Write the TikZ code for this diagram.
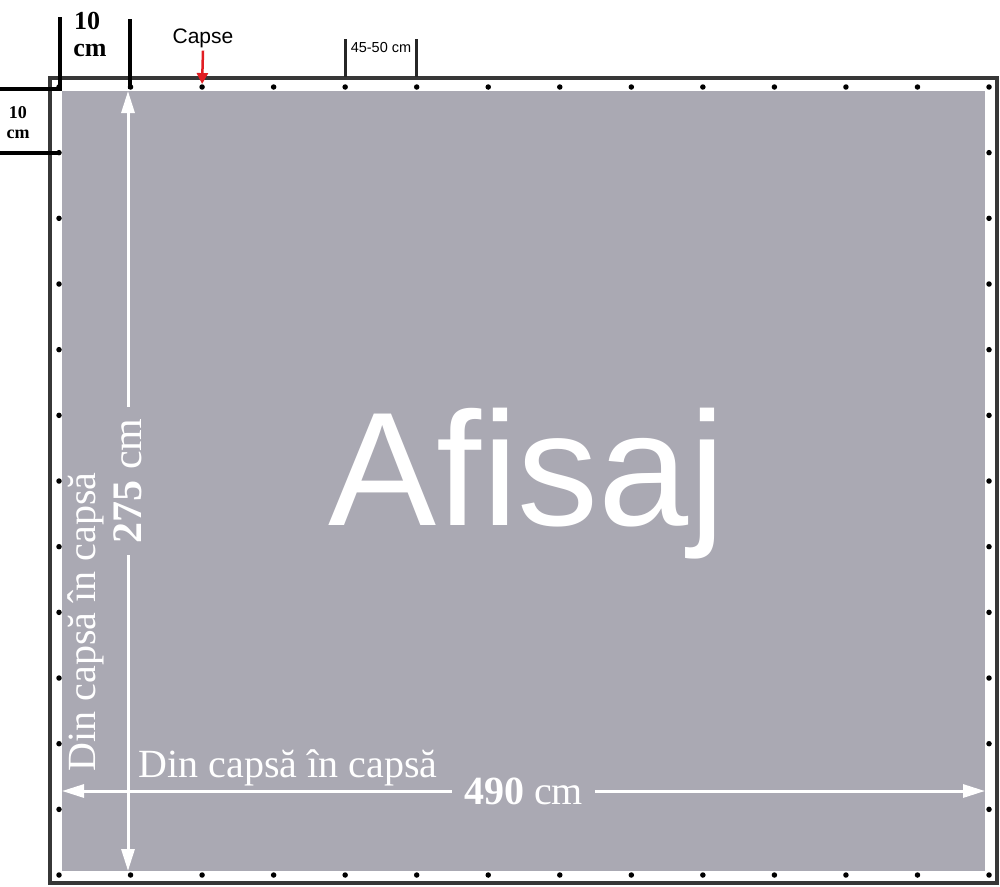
\documentclass[tikz,border=0pt]{standalone}
\usepackage{fontspec}
\setmainfont{Liberation Serif}
\newfontfamily\arialfont{Liberation Sans}
\usetikzlibrary{arrows.meta}

\begin{document}
\begin{tikzpicture}[x=1pt,y=-1pt]

\definecolor{banner}{RGB}{170,169,179}
\definecolor{framegray}{RGB}{55,55,55}
\definecolor{capsered}{RGB}{225,30,35}

\tikzset{%
    dimen/.style={{Triangle[length=22pt,width=13pt]}-{Triangle[length=22pt,width=13pt]},white,line width=3pt,
        every node/.style={fill=banner,midway,text=white,inner xsep=12pt,inner ysep=1pt,font=\fontsize{40}{40}\selectfont}},
    marker/.style={line width=4pt,black},
    smallmark/.style={line width=3pt,black!85},
    capsa/.style={circle,fill=black,inner sep=0pt,minimum size=5.5pt},
    whitetext/.style={text=white,inner sep=0pt,font=\fontsize{40}{40}\selectfont},
    boldtext/.style={inner sep=0pt,font=\bfseries\fontsize{#1}{#1}\selectfont},
}

% banner edges
\def\Lx{62}
\def\Rx{985}
\def\Ty{91}
\def\By{871}
% grommet rows and columns
\def\gT{87}
\def\gB{875}
\def\gL{59}
\def\gR{989}
\def\gdx{71.54}
\def\gdy{65.67}

\useasboundingbox (0,0) rectangle (1000,886);

% frame and banner
\draw [framegray, line width=3.5pt] (50,78) rectangle (997,883);
\fill [banner] (\Lx,\Ty) rectangle (\Rx,\By);

% grommets
\foreach \i in {0,...,13} {
    \node [capsa] (top\i) at (\gL+\gdx*\i, \gT) {};
    \node [capsa] (bot\i) at (\gL+\gdx*\i, \gB) {};
}
\foreach \j in {1,...,11} {
    \node [capsa] (left\j) at (\gL, \gT+\gdy*\j) {};
    \node [capsa] (right\j) at (\gR, \gT+\gdy*\j) {};
}

% title
\node [text=white, inner sep=0pt, anchor=base, font=\arialfont\fontsize{162}{162}\selectfont] (afisaj) at (527,525) {Afisaj};

% distance arrows
\coordinate (V1) at (128,\Ty);
\coordinate (V2) at (128,\By);
\draw [dimen] (V1) -- (V2) node [rotate=90, font=\fontsize{42}{42}\selectfont] {\textbf{275} cm};
\coordinate (H1) at (\Lx,791);
\coordinate (H2) at (\Rx,791);
\draw [dimen] (H1) -- (H2) node {\textbf{490} cm};

\node [whitetext, rotate=90, anchor=base] (dinV) at (95,622) {Din capsă în capsă};
\node [whitetext, anchor=base] (dinH) at (288,777) {Din capsă în capsă};

% 10 cm margins
\coordinate (M0) at (0,89);
\coordinate (M1) at (60,89);
\coordinate (M2) at (60,17);
\coordinate (M3) at (130,19);
\coordinate (M4) at (130,89);
\coordinate (M5) at (0,153);
\coordinate (M6) at (60,153);
\draw [marker] (M0) -- (M1) -- (M2);
\draw [marker] (M3) -- (M4);
\draw [marker] (M5) -- (M6);
\node [boldtext=26] (tenTop) at (87,21) {10};
\node [boldtext=26] (cmTop) at (90,50) {cm};
\node [boldtext=18] (tenLeft) at (18,113) {10};
\node [boldtext=18] (cmLeft) at (18,134) {cm};

% grommet spacing
\coordinate (S1) at (345,39);
\coordinate (S2) at (345,77);
\coordinate (S3) at (416,39);
\coordinate (S4) at (416,77);
\draw [smallmark] (S1) -- (S2);
\draw [smallmark] (S3) -- (S4);
\node [inner sep=0pt, font=\arialfont\fontsize{14.5}{14.5}\selectfont] (spacing) at (381,48) {45-50 cm};

% capse label
\node [inner sep=3pt, font=\arialfont\fontsize{21}{21}\selectfont] (capse) at (203,38) {Capse};
\draw [capsered, line width=2.5pt, -{Triangle[length=11pt,width=11pt]}] (capse.south) -- (top2.north);

\end{tikzpicture}
\end{document}
